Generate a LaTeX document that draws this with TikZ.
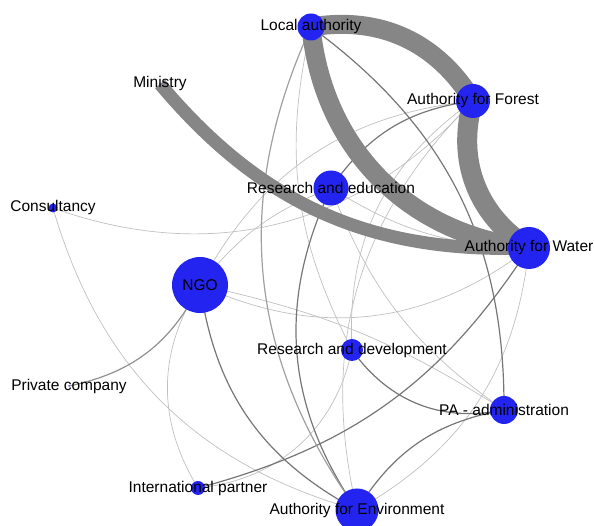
\documentclass[tikz,border=0pt]{standalone}
\usepackage{fontspec}
\setmainfont{Liberation Sans}
\usetikzlibrary{backgrounds}
\definecolor{nodeblue}{RGB}{36,36,240}
\definecolor{heavygray}{RGB}{134,134,134}
\definecolor{midgray}{RGB}{118,118,118}
\definecolor{faintgray}{RGB}{192,192,192}
\begin{document}
\begin{tikzpicture}[x=1pt,y=1pt,
        actor/.style={circle,fill=nodeblue,inner sep=0pt,minimum size=#1},
        every label/.style={font=\fontsize{15.5}{18}\selectfont,text=black,inner sep=0pt},
        heavy/.style={draw=heavygray,line width=#1},
        strong tie/.style={draw=midgray,line width=1.2pt},
        weak tie/.style={draw=faintgray,line width=0.7pt}]
                \useasboundingbox (0,0) rectangle (594,526);
                \node[actor=27pt,label=center:Local authority] (la) at (311,499) {};
                \node[actor=34pt,label=center:Authority for Forest] (af) at (473,425) {};
                \node[actor=1.5pt,label=center:Ministry] (mi) at (160,442) {};
                \node[actor=35pt,label=center:Research and education] (re) at (331,338) {};
                \node[actor=9pt,label=center:Consultancy] (co) at (53,318) {};
                \node[actor=42pt,label=center:Authority for Water] (aw) at (529,278) {};
                \node[actor=56pt,label=center:NGO] (ngo) at (200,241) {};
                \node[actor=22pt,label=center:Research and development] (rd) at (352,176) {};
                \node[actor=1.5pt,label=center:Private company] (pc) at (69,140) {};
                \node[actor=28pt,label=center:PA - administration] (pa) at (504,116) {};
                \node[actor=14pt,label=center:International partner] (ip) at (198,38) {};
                \node[actor=43pt,label=center:Authority for Environment] (ae) at (357,16) {};
                \begin{scope}[on background layer]
                \draw[weak tie] (aw.center) to[bend left=27] (ae.center);
                \draw[weak tie] (re.center) to[bend right=17] (pa.center);
                \draw[weak tie] (ngo.center) to[bend right=32] (ip.center);
                \draw[weak tie] (co.center) to[bend right=29] (ae.center);
                \draw[weak tie] (co.center) to[bend right=34] (af.center);
                \draw[weak tie] (af.center) to[bend right=29] (ae.center);
                \draw[weak tie] (af.center) to[bend right=29] (rd.center);
                \draw[weak tie] (rd.center) to[bend left=36] (ip.center);
                \draw[weak tie] (ngo.center) to[bend right=31] (aw.center);
                \draw[weak tie] (ngo.center) to[bend left=10] (pa.center);
                \draw[weak tie] (af.center) to[bend right=28] (ngo.center);
                \draw[weak tie] (re.center) to[bend right=15] (aw.center);
                \draw[weak tie] (ngo.center) to[bend left=15] (re.center);
                \draw[weak tie] (la.center) to[bend right=20] (rd.center);
                \draw[strong tie] (la.center) to[bend left=27] (pa.center);
                \draw[strong tie] (aw.center) to[bend left=21] (ip.center);
                \draw[strong tie] (rd.center) to[bend right=33] (pa.center);
                \draw[strong tie] (ae.center) to[bend left=24] (pa.center);
                \draw[strong tie] (re.center) to[bend right=30] (ae.center);
                \draw[strong tie] (ngo.center) to[bend right=27] (ae.center);
                \draw[strong tie,draw=midgray!80] (ngo.center) to[bend left=26] (pc.center);
                \draw[strong tie] (re.center) to[bend left=24] (af.center);
                \draw[strong tie,draw=midgray!70] (la.center) to[bend right=30] (ae.center);
                \draw[heavy=19pt] (la.center) to[bend left=34] (af.center);
                \draw[heavy=20pt] (af.center) to[bend right=37] (aw.center);
                \draw[heavy=19pt] (la.center) to[bend right=39] (aw.center);
                \draw[heavy=13pt] (mi.center) to[bend right=26] (aw.center);
                \end{scope}
\end{tikzpicture}
\end{document}
